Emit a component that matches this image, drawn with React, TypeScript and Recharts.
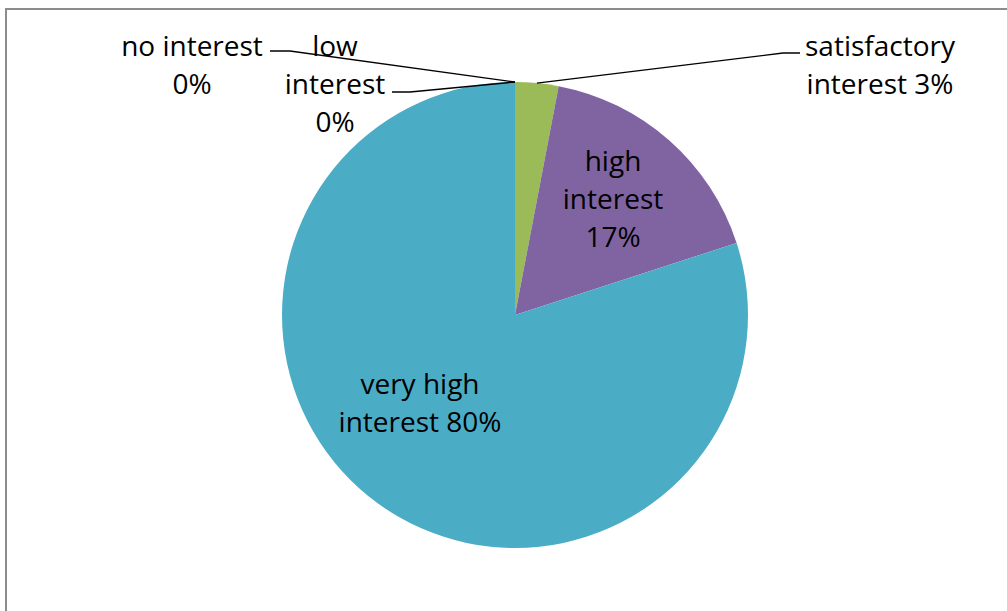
import React from 'react';
import { PieChart, Pie, Cell } from 'recharts';

const categories = ['no interest', 'low interest', 'satisfactory interest', 'high interest', 'very high interest'];
const shares = [0, 0, 3, 17, 80];
const sliceColors = ['#4F81BD', '#C0504D', '#9BBB59', '#8064A2', '#4BACC6'];
const labelText = [
  ['no interest', '0%'],
  ['low', 'interest', '0%'],
  ['satisfactory', 'interest 3%'],
  ['high', 'interest', '17%'],
  ['very high', 'interest 80%'],
];

const chartData = categories.map((name, i) => ({ name, value: shares[i] }));

// label placement relative to the pie centre (manually dragged labels in the original)
const labelLayout = [
  { x: -323, y: -270, leader: [[-225, -264], [-245, -264]] },
  { x: -180, y: -270, leader: [[-105, -223], [-123, -223]] },
  { x: 365, y: -270, leader: [[268, -262], [285, -262]] },
  { x: 98, y: -155, leader: null },
  { x: -95, y: 68, leader: null },
];

const RAD = Math.PI / 180;
const LINE_H = 38;

const renderLabel = (props: any) => {
  const { cx, cy, midAngle, outerRadius, index } = props;
  const pos = labelLayout[index];
  const lines = labelText[index];
  let path = null;
  if (pos.leader) {
    const px = cx + outerRadius * Math.cos(-midAngle * RAD);
    const py = cy + outerRadius * Math.sin(-midAngle * RAD);
    const pts = [[px, py], ...pos.leader.map(([dx, dy]) => [cx + dx, cy + dy])];
    path = (
      <polyline
        points={pts.map((p) => p.join(',')).join(' ')}
        fill="none"
        stroke="#000"
        strokeWidth={1.3}
      />
    );
  }
  return (
    <g key={`lbl-${index}`}>
      {path}
      <text
        x={cx + pos.x}
        y={cy + pos.y}
        textAnchor="middle"
        fill="#000"
        fontSize={28}
        fontFamily="'Open Sans', sans-serif"
      >
        {lines.map((l, i) => (
          <tspan key={i} x={cx + pos.x} y={cy + pos.y + i * LINE_H} dominantBaseline="central">
            {l}
          </tspan>
        ))}
      </text>
    </g>
  );
};

export default function App() {
  return (
    <div style={{ position: 'absolute', left: 0, top: 0, width: 1007, height: 611, background: '#fff', overflow: 'hidden' }}>
      <div
        style={{
          position: 'absolute',
          left: 5,
          top: 8,
          width: 1100,
          height: 700,
          borderLeft: '2px solid #8c8c8c',
          borderTop: '2px solid #8c8c8c',
        }}
      />
      <PieChart
        width={1007}
        height={611}
        margin={{ top: 0, right: 0, bottom: 0, left: 0 }}
        style={{ position: 'absolute', left: 0, top: 0 }}
      >
        <Pie
          data={chartData}
          dataKey="value"
          nameKey="name"
          cx={515}
          cy={315}
          outerRadius={233}
          startAngle={90}
          endAngle={-270}
          stroke="none"
          label={renderLabel}
          labelLine={false}
          isAnimationActive={false}
        >
          {chartData.map((d, i) => (
            <Cell key={d.name} fill={sliceColors[i]} />
          ))}
        </Pie>
      </PieChart>
    </div>
  );
}
